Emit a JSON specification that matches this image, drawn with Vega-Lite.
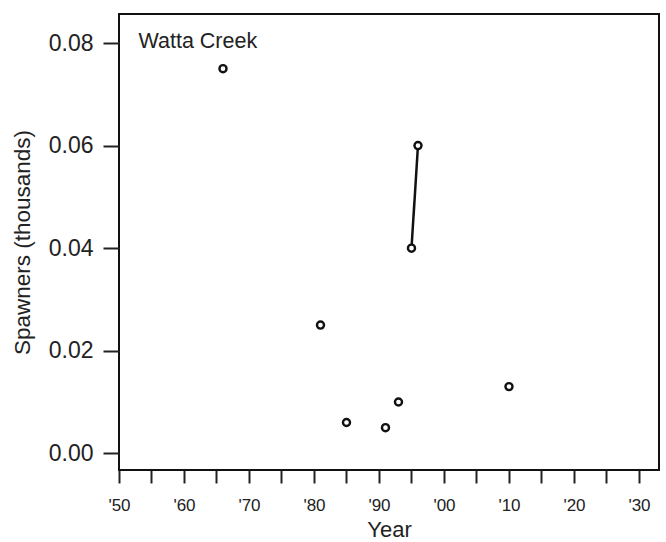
{
  "$schema": "https://vega.github.io/schema/vega-lite/v6.json",
  "autosize": "none",
  "width": 540,
  "height": 456,
  "padding": {"left": 119, "top": 14, "right": 7, "bottom": 72},
  "background": "white",
  "config": {
    "view": {"stroke": "#111111", "strokeWidth": 2},
    "font": "Liberation Sans",
    "axis": {
      "grid": false,
      "domain": false,
      "ticks": true,
      "labelColor": "#222222",
      "titleColor": "#222222",
      "labelFont": "Liberation Sans",
      "titleFont": "Liberation Sans",
      "titleFontWeight": "normal"
    }
  },
  "data": {
    "values": [
      {"year": 1966, "spawners": 0.075, "segment": 1},
      {"year": 1981, "spawners": 0.025, "segment": 2},
      {"year": 1985, "spawners": 0.006, "segment": 3},
      {"year": 1991, "spawners": 0.005, "segment": 4},
      {"year": 1993, "spawners": 0.010, "segment": 5},
      {"year": 1995, "spawners": 0.040, "segment": 6},
      {"year": 1996, "spawners": 0.060, "segment": 6},
      {"year": 2010, "spawners": 0.013, "segment": 7}
    ]
  },
  "encoding": {
    "x": {
      "field": "year",
      "type": "quantitative",
      "scale": {"domain": [1950, 2033.08], "nice": false, "zero": false},
      "axis": {
        "title": "Year",
        "values": [1950, 1955, 1960, 1965, 1970, 1975, 1980, 1985, 1990, 1995, 2000, 2005, 2010, 2015, 2020, 2025, 2030],
        "format": "d",
        "labelExpr": "datum.value % 10 === 0 ? \"'\" + substring(datum.label, 2) : ''",
        "labelOverlap": false,
        "labelFlush": false,
        "ticks": true,
        "tickSize": 13,
        "tickColor": "#222222",
        "tickWidth": 2,
        "labelPadding": 14,
        "labelFontSize": 17,
        "titleFontSize": 22,
        "titlePadding": 6
      }
    },
    "y": {
      "field": "spawners",
      "type": "quantitative",
      "scale": {"domain": [-0.00326, 0.08566], "nice": false, "zero": false},
      "axis": {
        "title": "Spawners (thousands)",
        "values": [0, 0.02, 0.04, 0.06, 0.08],
        "format": ".2f",
        "labelOverlap": false,
        "labelFlush": false,
        "ticks": true,
        "tickSize": 16,
        "tickColor": "#222222",
        "tickWidth": 2,
        "labelPadding": 10,
        "labelFontSize": 23,
        "titleFontSize": 22.5,
        "titlePadding": 14
      }
    }
  },
  "layer": [
    {
      "data": {"values": [{"spawners": 0}, {"spawners": 0.02}, {"spawners": 0.04}, {"spawners": 0.06}, {"spawners": 0.08}]},
      "mark": {"type": "rule", "color": "#222222", "strokeWidth": 2},
      "encoding": {
        "x": {"datum": 1947.54, "type": "quantitative"},
        "x2": {"datum": 1950}
      }
    },
    {
      "mark": {"type": "line", "color": "#111111", "strokeWidth": 2.5},
      "encoding": {"detail": {"field": "segment"}}
    },
    {
      "mark": {"type": "point", "shape": "circle", "filled": false, "size": 50, "strokeWidth": 2.4, "color": "#111111", "fill": "white", "fillOpacity": 1}
    },
    {
      "data": {"values": [{"year": 1953, "spawners": 0.0791, "label": "Watta Creek"}]},
      "mark": {"type": "text", "align": "left", "baseline": "alphabetic", "fontSize": 21.5, "font": "Liberation Sans", "color": "#222222"},
      "encoding": {"text": {"field": "label"}}
    }
  ]
}
